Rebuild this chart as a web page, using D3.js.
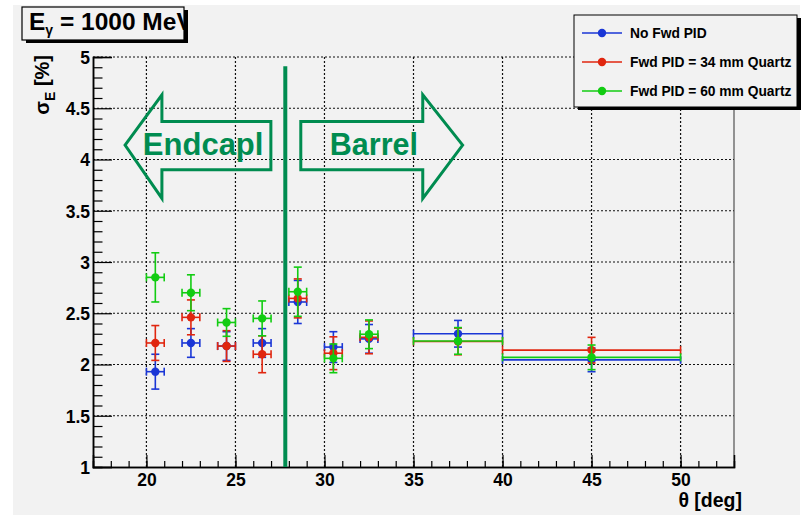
<!DOCTYPE html>
<html>
<head>
<meta charset="utf-8">
<script src="https://cdn.jsdelivr.net/npm/d3@7"></script>
<style>
  html, body { margin: 0; padding: 0; background: #ffffff; }
  svg { display: block; }
  text { font-family: "Liberation Sans", Arial, Helvetica, sans-serif; font-weight: bold; }
</style>
</head>
<body>
<svg id="chart" width="805" height="515"></svg>
<script>
// Polar angle bins (deg) and their half-widths
const theta    = [20.5, 22.5, 24.5, 26.5, 28.5, 30.5, 32.5, 37.5, 45];
const thetaErr = [0.5, 0.5, 0.5, 0.5, 0.5, 0.5, 0.5, 2.5, 5];

// Energy resolution sigma_E [%] for each configuration
const noFwdPid     = [1.93, 2.21, 2.18, 2.21, 2.61, 2.17, 2.25, 2.30, 2.045];
const noFwdPidErr  = [0.17, 0.14, 0.14, 0.14, 0.21, 0.15, 0.14, 0.13, 0.115];
const quartz34     = [2.21, 2.46, 2.18, 2.10, 2.645, 2.11, 2.265, 2.225, 2.14];
const quartz34Err  = [0.17, 0.17, 0.15, 0.18, 0.19, 0.16, 0.16, 0.13, 0.125];
const quartz60     = [2.85, 2.70, 2.41, 2.45, 2.71, 2.06, 2.295, 2.23, 2.07];
const quartz60Err  = [0.24, 0.175, 0.135, 0.17, 0.24, 0.14, 0.14, 0.13, 0.12];

const seriesNames  = ["No Fwd PID", "Fwd PID = 34 mm Quartz", "Fwd PID = 60 mm Quartz"];
const seriesColors = ["#1a36d6", "#e0260f", "#12cc12"];

// Axis ranges and ticks
const xDomain = [17, 53];
const yDomain = [1, 5];
const xMajorTicks = [20, 25, 30, 35, 40, 45, 50];
const yMajorTicks = [1, 1.5, 2, 2.5, 3, 3.5, 4, 4.5, 5];
const yTickLabels = ["1", "1.5", "2", "2.5", "3", "3.5", "4", "4.5", "5"];

// Endcap / barrel boundary and region labels (in axis units)
const boundaryTheta = 27.8;
const boundaryTop   = 4.91;
const regionLabels  = ["Endcapl", "Barrel"];

const svg = d3.select("#chart");
const W = 805, H = 515;
const plot = { left: 93, right: 734, top: 57, bottom: 467 };
const green = "#008c50";

const x = d3.scaleLinear().domain(xDomain).range([plot.left, plot.right]);
const y = d3.scaleLinear().domain(yDomain).range([plot.bottom, plot.top]);

// canvas background
svg.append("rect").attr("x", 13).attr("y", 5).attr("width", 787).attr("height", H - 5)
  .attr("fill", "#f2f2f2");

// grid
const grid = svg.append("g").attr("stroke", "#111").attr("stroke-width", 1.2)
  .attr("stroke-dasharray", "2,2");
grid.selectAll("line.v").data(xMajorTicks).join("line")
  .attr("x1", d => x(d)).attr("x2", d => x(d))
  .attr("y1", plot.top).attr("y2", plot.bottom);
grid.selectAll("line.h").data(yMajorTicks.filter(d => d > 1)).join("line")
  .attr("x1", plot.left).attr("x2", plot.right)
  .attr("y1", d => y(d)).attr("y2", d => y(d));

// frame right edge
svg.append("line").attr("x1", plot.right).attr("x2", plot.right)
  .attr("y1", plot.top).attr("y2", plot.bottom).attr("stroke", "#333").attr("stroke-width", 1);

// axes
const xAxisMinor = d3.axisBottom(x).tickValues(d3.range(18, 53, 1)).tickSize(-6).tickFormat("");
const xAxisMajor = d3.axisBottom(x).tickValues(xMajorTicks).tickSize(-12).tickPadding(20);
const gxm = svg.append("g").attr("transform", `translate(0,${plot.bottom})`).call(xAxisMinor);
const gx = svg.append("g").attr("transform", `translate(0,${plot.bottom})`).call(xAxisMajor);
[gxm, gx].forEach(g => {
  g.select(".domain").attr("stroke", "#000").attr("stroke-width", 1.5);
  g.selectAll(".tick line").attr("stroke", "#000").attr("stroke-width", 1.2);
});
gx.selectAll(".tick text").attr("font-size", 17.5).attr("fill", "#000")
  .attr("font-family", "Liberation Sans, Arial, sans-serif").attr("font-weight", "bold")
  .attr("dy", "0.0em").attr("y", 19);

const yMinorVals = d3.range(1.1, 5.0, 0.1).filter(v => Math.abs(v * 2 - Math.round(v * 2)) > 0.01);
const yAxisMinor = d3.axisLeft(y).tickValues(yMinorVals).tickSize(-9.5).tickFormat("");
const yAxisMajor = d3.axisLeft(y).tickValues(yMajorTicks).tickSize(-19)
  .tickFormat((d, i) => yTickLabels[i]);
const gym = svg.append("g").attr("transform", `translate(${plot.left},0)`).call(yAxisMinor);
const gy = svg.append("g").attr("transform", `translate(${plot.left},0)`).call(yAxisMajor);
[gym, gy].forEach(g => {
  g.select(".domain").attr("stroke", "#000").attr("stroke-width", 1.5);
  g.selectAll(".tick line").attr("stroke", "#000").attr("stroke-width", 1.2);
});
gy.selectAll(".tick text").attr("font-size", 17.5).attr("fill", "#000")
  .attr("font-family", "Liberation Sans, Arial, sans-serif").attr("font-weight", "bold")
  .attr("x", -3).attr("dy", "0.36em");

// axis titles
svg.append("text").attr("x", 742).attr("y", 507).attr("text-anchor", "end")
  .attr("font-size", 19.5).attr("fill", "#000").text("θ [deg]");
const yTitle = svg.append("text").attr("transform", "translate(49,55) rotate(-90)")
  .attr("text-anchor", "end").attr("font-size", 20).attr("fill", "#000");
yTitle.append("tspan").text("σ");
yTitle.append("tspan").attr("font-size", 14).attr("dy", 6).text("E");
yTitle.append("tspan").attr("dy", -6).text(" [%]");

// endcap / barrel boundary
svg.append("line").attr("x1", x(boundaryTheta)).attr("x2", x(boundaryTheta))
  .attr("y1", y(boundaryTop)).attr("y2", plot.bottom)
  .attr("stroke", green).attr("stroke-width", 4);

// outlined region arrows, defined in axis units
const leftArrow = [[18.8, 4.14], [20.87, 4.63], [20.87, 4.37], [26.99, 4.37],
                   [26.99, 3.90], [20.87, 3.90], [20.87, 3.62]];
const rightArrow = [[37.76, 4.14], [35.52, 4.63], [35.52, 4.37], [28.67, 4.37],
                    [28.67, 3.90], [35.52, 3.90], [35.52, 3.62]];
const arrowLine = d3.line().x(d => x(d[0])).y(d => y(d[1])).curve(d3.curveLinearClosed);
[leftArrow, rightArrow].forEach(a => {
  svg.append("path").attr("d", arrowLine(a)).attr("fill", "none")
    .attr("stroke", green).attr("stroke-width", 3).attr("stroke-linejoin", "miter");
});
svg.append("text").attr("x", x(19.8)).attr("y", y(4.045)).attr("font-size", 31)
  .attr("fill", green).text(regionLabels[0]);
svg.append("text").attr("x", x(30.3)).attr("y", y(4.045)).attr("font-size", 30.5)
  .attr("fill", green).text(regionLabels[1]);

// data points with error bars
const seriesVals = [noFwdPid, quartz34, quartz60];
const seriesErrs = [noFwdPidErr, quartz34Err, quartz60Err];
const cap = 4;
seriesVals.forEach((vals, s) => {
  const col = seriesColors[s];
  const pts = theta.map((t, i) => ({ t, dt: thetaErr[i], v: vals[i], dv: seriesErrs[s][i] }));
  const g = svg.append("g").attr("stroke", col).attr("stroke-width", 1.6).attr("fill", col);
  const p = g.selectAll("g").data(pts).join("g");
  // horizontal bar with end caps
  p.append("line").attr("x1", d => x(d.t - d.dt)).attr("x2", d => x(d.t + d.dt))
    .attr("y1", d => y(d.v)).attr("y2", d => y(d.v));
  p.append("line").attr("x1", d => x(d.t - d.dt)).attr("x2", d => x(d.t - d.dt))
    .attr("y1", d => y(d.v) - cap).attr("y2", d => y(d.v) + cap);
  p.append("line").attr("x1", d => x(d.t + d.dt)).attr("x2", d => x(d.t + d.dt))
    .attr("y1", d => y(d.v) - cap).attr("y2", d => y(d.v) + cap);
  // vertical bar with end caps
  p.append("line").attr("x1", d => x(d.t)).attr("x2", d => x(d.t))
    .attr("y1", d => y(d.v - d.dv)).attr("y2", d => y(d.v + d.dv));
  p.append("line").attr("x1", d => x(d.t) - cap).attr("x2", d => x(d.t) + cap)
    .attr("y1", d => y(d.v - d.dv)).attr("y2", d => y(d.v - d.dv));
  p.append("line").attr("x1", d => x(d.t) - cap).attr("x2", d => x(d.t) + cap)
    .attr("y1", d => y(d.v + d.dv)).attr("y2", d => y(d.v + d.dv));
  p.append("circle").attr("cx", d => x(d.t)).attr("cy", d => y(d.v)).attr("r", 4.2)
    .attr("stroke", "none");
});

// title box with shadow, text clipped to the box
const tb = { x: 22, y: 7, w: 162, h: 33 };
svg.append("rect").attr("x", tb.x + 4).attr("y", tb.y + 3).attr("width", tb.w).attr("height", tb.h)
  .attr("fill", "#000");
svg.append("rect").attr("x", tb.x).attr("y", tb.y).attr("width", tb.w).attr("height", tb.h)
  .attr("fill", "#f2f2f2").attr("stroke", "#000").attr("stroke-width", 1.2);
svg.append("clipPath").attr("id", "titleClip").append("rect")
  .attr("x", tb.x).attr("y", tb.y).attr("width", tb.w).attr("height", tb.h);
const title = svg.append("text").attr("x", 29).attr("y", 30).attr("font-size", 24.5)
  .attr("fill", "#000").attr("clip-path", "url(#titleClip)");
title.append("tspan").text("E");
title.append("tspan").attr("font-size", 14).attr("dy", 5).text("γ");
title.append("tspan").attr("dy", -5).text(" = 1000 MeV");

// legend box with shadow
const lb = { x: 574, y: 15, w: 223, h: 92 };
svg.append("rect").attr("x", lb.x + 4).attr("y", lb.y + 3).attr("width", lb.w).attr("height", lb.h)
  .attr("fill", "#000");
svg.append("rect").attr("x", lb.x).attr("y", lb.y).attr("width", lb.w).attr("height", lb.h)
  .attr("fill", "#f2f2f2").attr("stroke", "#000").attr("stroke-width", 1);
const legRows = [33, 62, 91];
seriesNames.forEach((name, i) => {
  const ly = legRows[i];
  svg.append("line").attr("x1", 582).attr("x2", 622).attr("y1", ly).attr("y2", ly)
    .attr("stroke", seriesColors[i]).attr("stroke-width", 1.6);
  svg.append("circle").attr("cx", 602).attr("cy", ly).attr("r", 4.2).attr("fill", seriesColors[i]);
  svg.append("text").attr("x", 630).attr("y", ly + 5).attr("font-size", 13.8)
    .attr("fill", "#000").text(name);
});
</script>
</body>
</html>
